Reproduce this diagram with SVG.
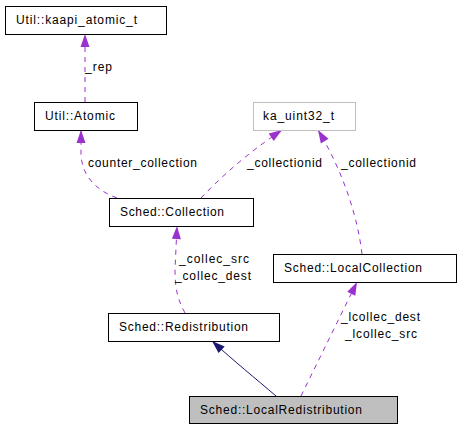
<svg xmlns="http://www.w3.org/2000/svg" width="460" height="429" viewBox="0 0 460 429">
<style>
text{font-family:"Liberation Sans",Arial,sans-serif;font-size:12px;fill:#000}
.box{fill:#fff;stroke:#000;stroke-width:1}
.grey{stroke:#bfbfbf}
.cur{fill:#bfbfbf}
.use{fill:none;stroke:#9a32cd;stroke-width:1;stroke-dasharray:5,5}
.inh{fill:none;stroke:#191970;stroke-width:1}
</style>
<defs>
<marker id="ap" markerUnits="userSpaceOnUse" markerWidth="14" markerHeight="10" refX="13" refY="5" orient="auto" overflow="visible">
<path d="M0,0.5 L13,5 L0,9.5 Z" fill="#9a32cd"/>
</marker>
<marker id="an" markerUnits="userSpaceOnUse" markerWidth="14" markerHeight="10" refX="13" refY="5" orient="auto" overflow="visible">
<path d="M0,0.5 L13,5 L0,9.5 Z" fill="#191970"/>
</marker>
</defs>
<g id="edges">
<path class="use" d="M85,102 L85,34" marker-end="url(#ap)"/>
<text x="85" y="71" textLength="27" lengthAdjust="spacing">_rep</text>
<path class="use" d="M117,198 C95,190 82,175 81,155 L81,130" marker-end="url(#ap)"/>
<text x="88" y="167" textLength="109" lengthAdjust="spacing">counter_collection</text>
<path class="use" d="M201,198 C220,178 245,155 282,130" marker-end="url(#ap)"/>
<text x="247" y="167" textLength="75" lengthAdjust="spacing">_collectionid</text>
<path class="use" d="M362,254 C358,220 345,175 318,130" marker-end="url(#ap)"/>
<text x="341" y="167" textLength="75" lengthAdjust="spacing">_collectionid</text>
<path class="use" d="M185,313 C178,300 175,290 175,270 L177,226" marker-end="url(#ap)"/>
<text x="179" y="263" textLength="70" lengthAdjust="spacing">_collec_src</text>
<text x="175" y="280" textLength="76" lengthAdjust="spacing">_collec_dest</text>
<path class="use" d="M301,396 L357,282" marker-end="url(#ap)"/>
<text x="341" y="321" textLength="79" lengthAdjust="spacing">_lcollec_dest</text>
<text x="345" y="338" textLength="72" lengthAdjust="spacing">_lcollec_src</text>
<path class="inh" d="M276,396 C255,378 235,362 212,341" marker-end="url(#an)"/>
</g>
<g id="node-kaapi_atomic_t">
<rect class="box" x="5.5" y="6.5" width="161" height="28"/>
<text x="16" y="24" textLength="121" lengthAdjust="spacing">Util::kaapi_atomic_t</text>
</g>
<g id="node-Atomic">
<rect class="box" x="34.5" y="102.5" width="103" height="28"/>
<text x="45" y="120" textLength="70" lengthAdjust="spacing">Util::Atomic</text>
</g>
<g id="node-ka_uint32_t">
<rect class="box grey" x="253.5" y="102.5" width="102" height="28"/>
<text x="263" y="120" textLength="71" lengthAdjust="spacing">ka_uint32_t</text>
</g>
<g id="node-Collection">
<rect class="box" x="109.5" y="198.5" width="144" height="28"/>
<text x="120" y="216" textLength="104" lengthAdjust="spacing">Sched::Collection</text>
</g>
<g id="node-LocalCollection">
<rect class="box" x="273.5" y="254.5" width="183" height="28"/>
<text x="284" y="272" textLength="138" lengthAdjust="spacing">Sched::LocalCollection</text>
</g>
<g id="node-Redistribution">
<rect class="box" x="108.5" y="313.5" width="171" height="28"/>
<text x="119" y="331" textLength="129" lengthAdjust="spacing">Sched::Redistribution</text>
</g>
<g id="node-LocalRedistribution">
<rect class="box cur" x="189.5" y="396.5" width="208" height="27"/>
<text x="200" y="414" textLength="162" lengthAdjust="spacing">Sched::LocalRedistribution</text>
</g>
</svg>
